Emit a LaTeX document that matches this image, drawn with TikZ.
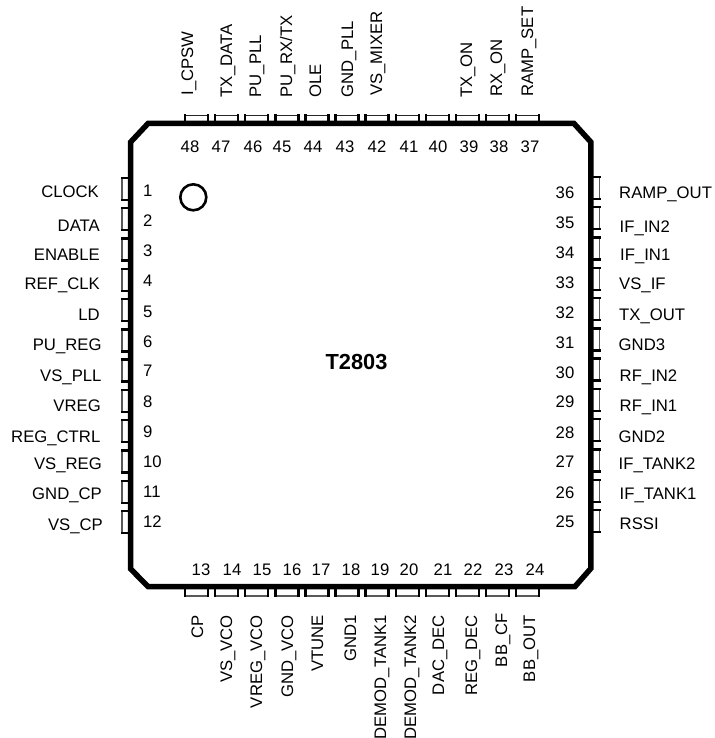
\documentclass[tikz,border=0pt]{standalone}
\usepackage{fontspec}
\setmainfont{Liberation Sans}
\tikzset{
  body/.style={line width=5.5pt,black,miter limit=10},
  pintick/.style={line width=2.4pt,black},
  pinfar/.style={line width=1.4pt,black!65},
  pintop/.style={line width=1.4pt,black!85},
  lab/.style={inner sep=0pt,font=\fontsize{16.7}{18}\selectfont,text=black},
  marker/.style={line width=2.6pt,black}
}
\begin{document}
\begin{tikzpicture}[x=1pt,y=-1pt]
\useasboundingbox (0,0) rectangle (714,738);
\fill[white] (0,0) rectangle (714,738);
% pins
\foreach \i in {0,...,11}{
  \pgfmathsetmacro\p{189+30.27*\i}
  \pgfmathsetmacro\q{196.5+30.1*\i}
  \draw[pinfar] (122,\p-11) -- (122,\p+11);
  \draw[pinfar] (599.5,\p-12) -- (599.5,\p+10);
  \draw[pintop] (\q-11.5,115.5) -- (\q+11.5,115.5);
  \draw[pinfar] (\q-11.5,596) -- (\q+11.5,596);
  \draw[pintick] (121,\p-11) -- (130,\p-11) (121,\p+11) -- (130,\p+11);
  \draw[pintick] (591,\p-12) -- (600.5,\p-12) (591,\p+10) -- (600.5,\p+10);
  \draw[pintick] (\q-11.5,114.5) -- (\q-11.5,123) (\q+11.5,114.5) -- (\q+11.5,123);
  \draw[pintick] (\q-11.5,586) -- (\q-11.5,597) (\q+11.5,586) -- (\q+11.5,597);
}
% package
\draw[body] (148,123.5) -- (574,123.5) -- (590.8,142) -- (590.8,568.5) -- (575,586.5) -- (148,586.5) -- (130.7,569) -- (130.7,142) -- cycle;
\node[circle,draw,marker,minimum size=26pt,inner sep=0pt] (dot) at (193.3,197.3) {};
\node[lab,font=\fontsize{21.8}{24}\selectfont\bfseries,anchor=base] (title) at (356.5,369) {T2803};
% left labels
\foreach \t/\x/\y [count=\n] in {CLOCK/99/197,DATA/100/231,ENABLE/100/260,REF\_CLK/100/289,LD/100/320,PU\_REG/101.7/350,VS\_PLL/101.7/381,VREG/101/411,REG\_CTRL/100.5/442,VS\_REG/102/469,GND\_CP/102/499,VS\_CP/103/530}
  \node[lab,anchor=base east] (l\n) at (\x,\y) {\t};
\foreach \n/\y in {1/196,2/226,3/256,4/286,5/317,6/347,7/376,8/407,9/437,10/467,11/497,12/527}
  \node[lab,anchor=base west] (ln\n) at (143,\y) {\n};
% right labels
\foreach \t/\x/\y [count=\n] in {RAMP\_OUT/619/198,IF\_IN2/619.5/232,IF\_IN1/620/260,VS\_IF/619/289,TX\_OUT/619/320,GND3/618.5/350,RF\_IN2/619.5/381,RF\_IN1/619.5/411,GND2/618.5/442,IF\_TANK2/618.5/469,IF\_TANK1/619.5/499,RSSI/619.5/529}
  \node[lab,anchor=base west] (r\n) at (\x,\y) {\t};
\foreach \n/\y in {36/198,35/228,34/258,33/288,32/318,31/348,30/378,29/407,28/438,27/467,26/498,25/527}
  \node[lab,anchor=base east] (rn\n) at (574.5,\y) {\n};
% top labels
\foreach \t/\x/\y [count=\n] in {I\_CPSW/193/95.5,TX\_DATA/232/97.5,PU\_PLL/261/97.5,{PU\_RX/TX}/292/97.5,OLE/321/98,GND\_PLL/353/97.5,VS\_MIXER/382/96,TX\_ON/472/98,RX\_ON/502/97,RAMP\_SET/533/97}
  \node[lab,rotate=90,anchor=base west] (t\n) at (\x,\y) {\t};
\foreach \n/\x in {48/190,47/221,46/253,45/282,44/313,43/345,42/377,41/409,40/438,39/469,38/499,37/530}
  \node[lab,anchor=base] (tn\n) at (\x,153) {\n};
% bottom labels
\foreach \t/\x/\y [count=\n] in {CP/203/615,VS\_VCO/232/615,VREG\_VCO/262/615,GND\_VCO/293/615,VTUNE/323/615,GND1/356/615,DEMOD\_TANK1/386/615,DEMOD\_TANK2/416/615,DAC\_DEC/444/615,REG\_DEC/477/615,BB\_CF/507/613,BB\_OUT/535/615}
  \node[lab,rotate=90,anchor=base east] (b\n) at (\x,\y) {\t};
\foreach \n/\x in {13/201,14/232,15/262,16/292,17/321,18/351,19/380,20/409,21/443,22/473,23/504,24/535}
  \node[lab,anchor=base] (bn\n) at (\x,575) {\n};
\end{tikzpicture}
\end{document}
